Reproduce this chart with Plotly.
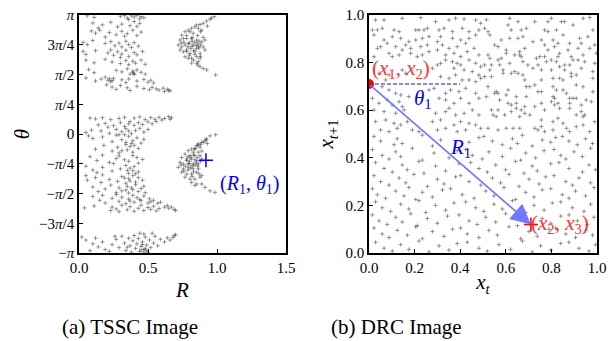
import math
import plotly.graph_objects as go

PI = math.pi

# ---------------- (a) TSSC image : points (R, theta) ----------------
tssc_upper_band = [
    (0.06, 3.12), (0.11, 3.08), (0.30, 3.11), (0.33, 3.13), (0.35, 3.06), (0.38, 3.12), (0.40, 3.09),
    (0.42, 3.13), (0.45, 3.10), (0.47, 3.07), (0.36, 3.02), (0.44, 3.04),
    (0.10, 2.93), (0.17, 2.88), (0.23, 2.95), (0.31, 2.90), (0.37, 2.86), (0.40, 2.97), (0.42, 2.84),
    (0.44, 2.92), (0.28, 2.83), (0.14, 2.80),
    (0.09, 2.72), (0.12, 2.66), (0.15, 2.74), (0.22, 2.68), (0.27, 2.62), (0.31, 2.71), (0.35, 2.65),
    (0.39, 2.74), (0.42, 2.60), (0.45, 2.69), (0.33, 2.58), (0.19, 2.56),
    (0.03, 2.42), (0.06, 2.36), (0.10, 2.47), (0.19, 2.39), (0.23, 2.44), (0.26, 2.33), (0.29, 2.40),
    (0.31, 2.30), (0.34, 2.45), (0.36, 2.36), (0.40, 2.41), (0.43, 2.32), (0.38, 2.28),
    (0.03, 2.18), (0.05, 2.10), (0.12, 2.20), (0.21, 2.14), (0.23, 2.22), (0.25, 2.08), (0.28, 2.17),
    (0.31, 2.11), (0.34, 2.21), (0.36, 2.05), (0.40, 2.15), (0.42, 2.09), (0.46, 2.18), (0.30, 2.02),
    (0.05, 1.95), (0.11, 1.88), (0.19, 1.97), (0.24, 1.90), (0.30, 1.86), (0.34, 1.94), (0.36, 1.83),
    (0.39, 1.92), (0.41, 1.87), (0.45, 1.95), (0.48, 1.84),
    (0.07, 1.70), (0.11, 1.62), (0.27, 1.68), (0.31, 1.64), (0.35, 1.72), (0.39, 1.66), (0.40, 1.60),
    (0.42, 1.69), (0.45, 1.63), (0.48, 1.58), (0.37, 1.58),
    (0.05, 1.48), (0.12, 1.40), (0.16, 1.45), (0.19, 1.50), (0.21, 1.42), (0.23, 1.38), (0.25, 1.47),
    (0.31, 1.43), (0.34, 1.36), (0.36, 1.45), (0.42, 1.40), (0.47, 1.44), (0.50, 1.37), (0.52, 1.42),
    (0.54, 1.35), (0.22, 1.46), (0.24, 1.41), (0.39, 1.62), (0.40, 1.57),
    (0.24, 1.24), (0.27, 1.18), (0.35, 1.22), (0.37, 1.15), (0.42, 1.26), (0.47, 1.20), (0.51, 1.17),
    (0.53, 1.23), (0.56, 1.19), (0.58, 1.16), (0.61, 1.21), (0.64, 1.18), (0.65, 1.15), (0.20, 1.30),
    (0.30, 1.28), (0.62, 1.12), (0.66, 1.14),
]

tssc_upper_cluster = [
    (0.98, 3.10), (0.95, 3.03), (0.925, 2.98), (0.90, 2.92), (0.877, 2.89), (0.853, 2.88), (0.84, 2.83),
    (0.865, 2.79), (0.889, 2.74), (0.816, 2.79), (0.792, 2.74), (0.768, 2.70), (0.804, 2.70),
    (0.828, 2.66), (0.744, 2.61), (0.756, 2.52), (0.732, 2.48), (0.78, 2.52), (0.816, 2.52),
    (0.853, 2.48), (0.889, 2.43), (0.913, 2.48), (0.72, 2.35), (0.744, 2.30), (0.768, 2.35),
    (0.792, 2.39), (0.828, 2.35), (0.865, 2.30), (0.90, 2.30), (0.913, 2.22), (0.732, 2.22),
    (0.756, 2.17), (0.78, 2.22), (0.804, 2.13), (0.84, 2.17), (0.877, 2.13), (0.768, 2.04),
    (0.792, 2.00), (0.816, 2.00), (0.853, 2.04), (0.877, 2.00), (0.816, 1.87), (0.853, 1.87),
    (0.865, 1.91), (0.877, 1.78), (0.90, 1.73), (0.925, 1.69),
    (0.80, 2.40), (0.82, 2.32), (0.84, 2.42), (0.86, 2.38), (0.81, 2.26), (0.83, 2.20), (0.79, 2.30),
    (0.85, 2.25), (0.87, 2.45), (0.88, 2.35), (0.76, 2.42), (0.78, 2.18), (0.74, 2.40), (0.82, 2.55),
    (0.86, 2.60), (0.84, 2.10), (0.80, 2.08), (0.88, 2.05), (0.78, 2.60), (0.90, 2.55), (0.83, 1.95),
    (0.86, 1.82), (0.88, 2.70), (0.93, 2.85), (0.96, 3.06), (0.85, 2.33), (0.87, 2.27), (0.82, 2.45),
]

tssc_lower_band = [
    (0.08, 0.42), (0.12, 0.40), (0.17, 0.43), (0.23, 0.38), (0.29, 0.41), (0.33, 0.44), (0.40, 0.42),
    (0.44, 0.45), (0.52, 0.43), (0.55, 0.39), (0.58, 0.44), (0.62, 0.41), (0.65, 0.46), (0.67, 0.43),
    (0.48, 0.38), (0.60, 0.37), (0.66, 0.39),
    (0.14, 0.24), (0.19, 0.28), (0.25, 0.22), (0.30, 0.30), (0.33, 0.20), (0.36, 0.27), (0.40, 0.23),
    (0.43, 0.30), (0.46, 0.25), (0.50, 0.32), (0.53, 0.27), (0.56, 0.33), (0.37, 0.33), (0.21, 0.18),
    (0.05, 0.04), (0.09, 0.10), (0.16, 0.08), (0.22, 0.02), (0.27, 0.12), (0.31, 0.06), (0.34, 0.14),
    (0.38, 0.01), (0.41, 0.09), (0.44, 0.15), (0.47, 0.05), (0.50, 0.12), (0.29, -0.02), (0.36, 0.08),
    (0.07, -0.05), (0.10, -0.12), (0.17, -0.08), (0.24, -0.20), (0.27, -0.03), (0.31, -0.15),
    (0.34, -0.22), (0.36, -0.06), (0.39, -0.18), (0.42, -0.10), (0.45, -0.24), (0.47, -0.14),
    (0.33, -0.02), (0.38, -0.25),
    (0.18, -0.30), (0.24, -0.45), (0.28, -0.35), (0.29, -0.50), (0.34, -0.28), (0.35, -0.42),
    (0.37, -0.33), (0.39, -0.48), (0.43, -0.38), (0.40, -0.30), (0.12, -0.40), (0.31, -0.44),
    (0.08, -0.60), (0.13, -0.70), (0.17, -0.56), (0.22, -0.75), (0.27, -0.65), (0.29, -0.58),
    (0.36, -0.72), (0.42, -0.62), (0.43, -0.77), (0.46, -0.67), (0.33, -0.68), (0.25, -0.78),
    (0.39, -0.57),
    (0.05, -0.85), (0.10, -0.95), (0.13, -1.02), (0.17, -0.88), (0.24, -0.98), (0.34, -0.83),
    (0.35, -0.96), (0.36, -1.04), (0.37, -0.90), (0.40, -0.86), (0.43, -1.00), (0.30, -0.92),
    (0.39, -0.97), (0.41, -1.05),
    (0.05, -1.10), (0.06, -1.22), (0.12, -1.15), (0.16, -1.28), (0.17, -1.08), (0.22, -1.20),
    (0.28, -1.25), (0.31, -1.12), (0.34, -1.30), (0.36, -1.18), (0.39, -1.10), (0.41, -1.27),
    (0.43, -1.15), (0.46, -1.22), (0.37, -1.24), (0.33, -1.16),
    (0.10, -1.40), (0.14, -1.52), (0.19, -1.45), (0.23, -1.35), (0.27, -1.55), (0.29, -1.42),
    (0.31, -1.50), (0.35, -1.38), (0.36, -1.56), (0.39, -1.47), (0.41, -1.34), (0.43, -1.52),
    (0.45, -1.44), (0.47, -1.38), (0.48, -1.55), (0.38, -1.42), (0.34, -1.48),
    (0.10, -1.65), (0.15, -1.75), (0.17, -1.62), (0.19, -1.82), (0.24, -1.70), (0.27, -1.60),
    (0.29, -1.78), (0.31, -1.67), (0.34, -1.84), (0.36, -1.72), (0.39, -1.62), (0.40, -1.80),
    (0.42, -1.68), (0.45, -1.76), (0.47, -1.64), (0.50, -1.82), (0.51, -1.71), (0.52, -1.79),
    (0.54, -1.75), (0.57, -1.83), (0.59, -1.80), (0.44, -1.73), (0.37, -1.77),
    (0.04, -1.95), (0.11, -1.90), (0.23, -2.02), (0.24, -1.93), (0.27, -1.98), (0.29, -2.05),
    (0.31, -1.88), (0.35, -2.00), (0.37, -1.92), (0.40, -2.04), (0.43, -1.96), (0.45, -1.88),
    (0.47, -2.02), (0.50, -1.94), (0.52, -1.99), (0.54, -1.91), (0.58, -1.97), (0.62, -1.93),
    (0.64, -1.89), (0.65, -1.96), (0.69, -1.99), (0.70, -2.02), (0.67, -1.93), (0.56, -2.03),
]

tssc_lower_cluster = [
    (0.95, -0.05), (0.92, -0.15), (0.90, -0.22), (0.88, -0.28), (0.86, -0.30), (0.93, -0.25),
    (0.84, -0.38), (0.925, -0.13), (0.913, -0.18), (0.889, -0.22), (0.865, -0.26), (0.853, -0.31),
    (0.877, -0.35), (0.84, -0.40), (0.816, -0.40), (0.792, -0.44), (0.828, -0.48), (0.865, -0.48),
    (0.768, -0.53), (0.804, -0.57), (0.84, -0.57), (0.877, -0.57), (0.744, -0.62), (0.78, -0.66),
    (0.816, -0.66), (0.853, -0.70), (0.889, -0.66), (0.732, -0.75), (0.756, -0.79), (0.792, -0.79),
    (0.828, -0.79), (0.865, -0.79), (0.72, -0.88), (0.756, -0.92), (0.792, -0.88), (0.828, -0.92),
    (0.865, -0.92), (0.744, -1.01), (0.78, -1.06), (0.816, -1.06), (0.853, -1.01), (0.889, -1.10),
    (0.768, -1.14), (0.804, -1.19), (0.84, -1.19), (0.877, -1.14), (0.816, -1.28), (0.853, -1.32),
    (0.889, -1.32), (0.84, -1.36), (0.913, -1.41), (0.95, -1.50), (0.985, -1.54),
    (0.80, -0.72), (0.82, -0.84), (0.78, -0.70), (0.84, -0.68), (0.79, -0.95), (0.81, -0.62),
    (0.86, -0.85), (0.83, -1.00), (0.77, -0.85), (0.85, -0.76), (0.80, -0.78), (0.76, -0.98),
    (0.82, -1.12), (0.87, -1.05), (0.88, -0.72), (0.74, -0.82), (0.86, -0.62), (0.83, -0.55),
    (0.89, -0.45), (0.81, -0.90), (0.84, -0.82), (0.79, -0.60),
]

tssc_bottom_band = [
    (0.02, -2.72), (0.05, -2.80), (0.10, -2.90), (0.12, -2.75), (0.14, -2.98), (0.17, -2.85),
    (0.19, -3.05), (0.24, -2.92), (0.27, -2.78), (0.29, -3.00), (0.31, -2.70), (0.33, -2.88),
    (0.34, -3.08), (0.36, -2.75), (0.37, -2.95), (0.38, -3.12), (0.39, -2.82), (0.40, -2.68),
    (0.41, -3.02), (0.42, -2.90), (0.43, -2.76), (0.44, -3.10), (0.45, -2.97), (0.46, -2.85),
    (0.47, -3.05), (0.48, -2.72), (0.49, -2.93), (0.50, -3.12), (0.51, -2.80), (0.52, -3.00),
    (0.54, -2.88), (0.55, -2.70), (0.57, -2.95), (0.59, -2.78), (0.62, -2.85), (0.64, -2.74),
    (0.66, -2.80), (0.69, -2.68), (0.70, -2.66), (0.68, -2.73), (0.22, -3.10), (0.26, -2.70),
    (0.08, -3.08), (0.35, -2.99), (0.44, -2.62), (0.53, -2.62), (0.47, -2.64),
    (0.45, -3.06), (0.47, -3.12), (0.48, -3.02), (0.46, -2.92), (0.49, -3.08),
]

tssc_isolated = [(0.99, 1.56), (0.99, -0.02)]

r_ticks = [0.0, 0.5, 1.0, 1.5]
r_tick_text = ["0.0", "0.5", "1.0", "1.5"]
theta_ticks = [PI, 3 * PI / 4, PI / 2, PI / 4, 0, -PI / 4, -PI / 2, -3 * PI / 4, -PI]
theta_tick_text = ["<i>π</i>", "3<i>π</i>/4", "<i>π</i>/2", "<i>π</i>/4", "0",
                   "−<i>π</i>/4", "−<i>π</i>/2", "−3<i>π</i>/4", "−<i>π</i>"]

highlight_R = [0.92]
highlight_theta = [-0.69]

# ---------------- (b) DRC image : points (x_t, x_{t+1}) ----------------
drc_top_left = [
    (0.029, 0.979), (0.066, 0.979), (0.146, 0.986), (0.227, 0.989), (0.292, 0.972), (0.351, 0.979),
    (0.38, 0.986), (0.417, 0.983), (0.468, 0.979), (0.49, 0.965), (0.015, 0.937), (0.037, 0.937),
    (0.058, 0.944), (0.11, 0.937), (0.132, 0.93), (0.205, 0.937), (0.219, 0.937), (0.241, 0.937),
    (0.256, 0.944), (0.307, 0.937), (0.329, 0.944), (0.366, 0.93), (0.409, 0.944), (0.439, 0.93),
    (0.482, 0.937), (0.022, 0.916), (0.066, 0.895), (0.102, 0.909), (0.139, 0.902), (0.175, 0.888),
    (0.205, 0.895), (0.234, 0.902), (0.263, 0.909), (0.30, 0.888), (0.314, 0.909), (0.366, 0.902),
    (0.402, 0.895), (0.439, 0.902), (0.468, 0.916), (0.037, 0.86), (0.051, 0.867), (0.08, 0.881),
    (0.117, 0.867), (0.146, 0.853), (0.161, 0.874), (0.183, 0.86), (0.227, 0.867), (0.256, 0.874),
    (0.30, 0.853), (0.322, 0.874), (0.351, 0.86), (0.387, 0.867), (0.424, 0.881), (0.461, 0.86),
    (0.022, 0.825), (0.088, 0.839), (0.102, 0.825), (0.132, 0.832), (0.183, 0.839), (0.212, 0.825),
    (0.234, 0.832), (0.263, 0.846), (0.336, 0.832), (0.373, 0.839), (0.402, 0.825), (0.431, 0.846),
    (0.482, 0.832), (0.336, 0.811), (0.366, 0.804), (0.387, 0.797), (0.402, 0.79), (0.439, 0.811),
    (0.468, 0.797), (0.49, 0.783), (0.278, 0.776), (0.30, 0.79), (0.314, 0.797), (0.373, 0.776),
    (0.417, 0.769), (0.453, 0.762), (0.482, 0.748), (0.044, 0.755), (0.088, 0.748), (0.146, 0.769),
    (0.161, 0.755), (0.073, 0.727), (0.314, 0.741), (0.351, 0.734), (0.38, 0.748), (0.409, 0.727),
    (0.439, 0.727), (0.468, 0.72), (0.49, 0.734), (0.058, 0.699), (0.088, 0.685), (0.117, 0.671),
    (0.139, 0.664), (0.175, 0.657), (0.263, 0.685), (0.285, 0.692), (0.336, 0.671), (0.358, 0.685),
    (0.395, 0.678), (0.424, 0.692), (0.468, 0.671), (0.015, 0.65), (0.044, 0.629), (0.08, 0.643),
    (0.102, 0.622), (0.132, 0.636), (0.146, 0.615), (0.307, 0.65), (0.336, 0.643), (0.373, 0.629),
    (0.402, 0.65), (0.439, 0.629), (0.482, 0.65), (0.022, 0.601), (0.066, 0.594), (0.117, 0.587),
    (0.154, 0.601), (0.292, 0.587), (0.336, 0.594), (0.351, 0.608), (0.38, 0.58), (0.417, 0.587),
    (0.453, 0.601), (0.482, 0.58), (0.029, 0.552), (0.073, 0.559), (0.11, 0.545), (0.139, 0.538),
    (0.168, 0.552), (0.278, 0.552), (0.314, 0.559), (0.373, 0.538), (0.402, 0.552), (0.439, 0.545),
    (0.468, 0.538), (0.051, 0.517), (0.088, 0.51), (0.124, 0.524), (0.19, 0.517), (0.219, 0.51),
    (0.30, 0.517), (0.336, 0.524), (0.387, 0.51), (0.424, 0.517), (0.49, 0.524),
]

drc_top_right = [
    (0.515, 0.98), (0.617, 0.986), (0.654, 0.972), (0.727, 0.972), (0.785, 0.972), (0.80, 0.986),
    (0.844, 0.972), (0.858, 0.972), (0.939, 0.986), (0.968, 0.99), (0.507, 0.944), (0.522, 0.93),
    (0.53, 0.916), (0.61, 0.958), (0.624, 0.937), (0.668, 0.937), (0.69, 0.944), (0.77, 0.937),
    (0.785, 0.93), (0.822, 0.937), (0.895, 0.958), (0.982, 0.937), (0.551, 0.874), (0.58, 0.895),
    (0.617, 0.902), (0.654, 0.902), (0.675, 0.909), (0.719, 0.888), (0.756, 0.895), (0.807, 0.895),
    (0.829, 0.881), (0.851, 0.916), (0.88, 0.881), (0.924, 0.902), (0.931, 0.881), (0.96, 0.909),
    (0.566, 0.867), (0.602, 0.853), (0.661, 0.846), (0.683, 0.86), (0.77, 0.874), (0.785, 0.853),
    (0.814, 0.867), (0.836, 0.839), (0.873, 0.853), (0.917, 0.86), (0.968, 0.86), (0.99, 0.874),
    (0.522, 0.832), (0.53, 0.818), (0.58, 0.818), (0.602, 0.839), (0.639, 0.832), (0.661, 0.832),
    (0.668, 0.825), (0.734, 0.818), (0.749, 0.825), (0.77, 0.825), (0.80, 0.811), (0.829, 0.825),
    (0.887, 0.825), (0.895, 0.811), (0.939, 0.832), (0.997, 0.839), (0.507, 0.79), (0.537, 0.79),
    (0.566, 0.811), (0.573, 0.79), (0.617, 0.797), (0.675, 0.804), (0.697, 0.79), (0.741, 0.79),
    (0.778, 0.804), (0.822, 0.804), (0.858, 0.79), (0.88, 0.79), (0.917, 0.811), (0.946, 0.804),
    (0.99, 0.797), (0.53, 0.769), (0.588, 0.769), (0.624, 0.755), (0.639, 0.762), (0.654, 0.755),
    (0.675, 0.748), (0.719, 0.776), (0.756, 0.769), (0.80, 0.769), (0.836, 0.783), (0.858, 0.769),
    (0.887, 0.755), (0.931, 0.776), (0.982, 0.762), (0.507, 0.741), (0.537, 0.741), (0.588, 0.755),
    (0.683, 0.727), (0.756, 0.727), (0.807, 0.734), (0.836, 0.734), (0.851, 0.727), (0.887, 0.741),
    (0.909, 0.748), (0.982, 0.734), (0.522, 0.699), (0.558, 0.678), (0.602, 0.664), (0.61, 0.685),
    (0.69, 0.699), (0.705, 0.699), (0.727, 0.706), (0.741, 0.678), (0.756, 0.678), (0.807, 0.699),
    (0.822, 0.685), (0.851, 0.685), (0.866, 0.671), (0.909, 0.706), (0.939, 0.699), (0.982, 0.678),
    (0.515, 0.657), (0.551, 0.671), (0.566, 0.671), (0.646, 0.657), (0.69, 0.657), (0.807, 0.657),
    (0.814, 0.65), (0.88, 0.65), (0.895, 0.65), (0.909, 0.65), (0.953, 0.643), (0.573, 0.643),
    (0.61, 0.629), (0.624, 0.622), (0.646, 0.629), (0.683, 0.615), (0.727, 0.615), (0.756, 0.629),
    (0.80, 0.636), (0.814, 0.622), (0.829, 0.629), (0.88, 0.629), (0.931, 0.622), (0.975, 0.636),
    (0.537, 0.601), (0.566, 0.601), (0.624, 0.594), (0.646, 0.608), (0.668, 0.601), (0.683, 0.587),
    (0.77, 0.601), (0.836, 0.608), (0.88, 0.608), (0.931, 0.594), (0.946, 0.58), (0.544, 0.58),
    (0.558, 0.573), (0.595, 0.58), (0.661, 0.573), (0.705, 0.58), (0.756, 0.559), (0.807, 0.552),
    (0.829, 0.566), (0.851, 0.545), (0.909, 0.58), (0.939, 0.573), (0.99, 0.552), (0.522, 0.524),
    (0.566, 0.517), (0.602, 0.524), (0.632, 0.524), (0.661, 0.524), (0.727, 0.524), (0.741, 0.517),
    (0.756, 0.531), (0.77, 0.51), (0.807, 0.517), (0.866, 0.524), (0.88, 0.51), (0.909, 0.531),
    (0.939, 0.538), (0.968, 0.51),
]

drc_bottom = [
    (0.022, 0.49), (0.051, 0.47), (0.11, 0.455), (0.124, 0.48), (0.146, 0.46), (0.234, 0.495),
    (0.278, 0.45), (0.314, 0.475), (0.439, 0.465), (0.482, 0.485), (0.504, 0.49), (0.541, 0.47),
    (0.585, 0.455), (0.629, 0.48), (0.651, 0.46), (0.673, 0.495), (0.716, 0.45), (0.76, 0.475),
    (0.797, 0.465), (0.819, 0.485), (0.848, 0.49), (0.877, 0.47), (0.914, 0.455), (0.95, 0.48),
    (0.98, 0.46),
    (0.015, 0.435), (0.058, 0.41), (0.088, 0.395), (0.117, 0.425), (0.139, 0.405), (0.19, 0.44),
    (0.234, 0.39), (0.285, 0.42), (0.351, 0.40), (0.387, 0.43), (0.424, 0.435), (0.453, 0.41),
    (0.497, 0.395), (0.526, 0.425), (0.585, 0.405), (0.621, 0.44), (0.665, 0.39), (0.687, 0.42),
    (0.731, 0.40), (0.768, 0.43), (0.811, 0.435), (0.841, 0.41), (0.863, 0.395), (0.899, 0.425),
    (0.936, 0.405), (0.972, 0.44),
    (0.029, 0.38), (0.066, 0.355), (0.102, 0.34), (0.146, 0.37), (0.168, 0.35), (0.219, 0.385),
    (0.241, 0.335), (0.292, 0.365), (0.336, 0.345), (0.395, 0.375), (0.446, 0.38), (0.482, 0.355),
    (0.519, 0.34), (0.556, 0.37), (0.599, 0.35), (0.643, 0.385), (0.68, 0.335), (0.716, 0.365),
    (0.738, 0.345), (0.797, 0.375), (0.833, 0.38), (0.877, 0.355), (0.936, 0.34), (0.965, 0.37),
    (0.994, 0.35),
    (0.022, 0.325), (0.051, 0.30), (0.088, 0.285), (0.132, 0.315), (0.161, 0.295), (0.197, 0.33),
    (0.256, 0.28), (0.30, 0.31), (0.329, 0.29), (0.38, 0.32), (0.402, 0.325), (0.439, 0.30),
    (0.49, 0.285), (0.541, 0.315), (0.577, 0.295), (0.614, 0.33), (0.658, 0.28), (0.702, 0.31),
    (0.746, 0.29), (0.775, 0.32), (0.811, 0.325), (0.863, 0.30), (0.892, 0.285), (0.921, 0.315),
    (0.972, 0.295),
    (0.015, 0.27), (0.037, 0.245), (0.073, 0.23), (0.117, 0.26), (0.154, 0.24), (0.175, 0.275),
    (0.205, 0.225), (0.234, 0.255), (0.278, 0.235), (0.322, 0.265), (0.358, 0.27), (0.409, 0.245),
    (0.461, 0.23), (0.512, 0.26), (0.548, 0.24), (0.592, 0.275), (0.643, 0.225), (0.687, 0.255),
    (0.724, 0.235), (0.76, 0.265), (0.797, 0.27), (0.848, 0.245), (0.877, 0.23), (0.906, 0.26),
    (0.95, 0.24), (0.987, 0.275),
    (0.029, 0.215), (0.058, 0.19), (0.095, 0.175), (0.139, 0.205), (0.175, 0.185), (0.219, 0.22),
    (0.249, 0.17), (0.292, 0.20), (0.336, 0.18), (0.373, 0.21), (0.424, 0.215), (0.468, 0.19),
    (0.504, 0.175), (0.548, 0.205), (0.585, 0.185), (0.629, 0.22), (0.687, 0.17), (0.724, 0.20),
    (0.768, 0.18), (0.804, 0.21), (0.841, 0.215), (0.892, 0.19), (0.943, 0.175), (0.972, 0.205),
    (0.015, 0.16), (0.044, 0.135), (0.08, 0.12), (0.117, 0.15), (0.146, 0.13), (0.183, 0.165),
    (0.212, 0.115), (0.256, 0.145), (0.30, 0.125), (0.344, 0.155), (0.395, 0.16), (0.439, 0.135),
    (0.475, 0.12), (0.512, 0.15), (0.556, 0.13), (0.599, 0.165), (0.651, 0.115), (0.76, 0.145),
    (0.797, 0.125), (0.841, 0.155), (0.877, 0.16), (0.914, 0.135), (0.958, 0.12), (0.987, 0.15),
    (0.022, 0.105), (0.058, 0.08), (0.088, 0.065), (0.124, 0.095), (0.168, 0.075), (0.205, 0.11),
    (0.234, 0.06), (0.278, 0.09), (0.329, 0.07), (0.366, 0.10), (0.402, 0.105), (0.431, 0.08),
    (0.482, 0.065), (0.526, 0.095), (0.563, 0.075), (0.614, 0.11), (0.665, 0.06), (0.702, 0.09),
    (0.738, 0.07), (0.789, 0.10), (0.819, 0.105), (0.863, 0.08), (0.906, 0.065), (0.95, 0.095),
    (0.98, 0.075),
    (0.029, 0.045), (0.066, 0.02), (0.102, 0.008), (0.139, 0.035), (0.175, 0.015), (0.219, 0.05),
    (0.263, 0.004), (0.307, 0.03), (0.351, 0.012), (0.387, 0.04), (0.431, 0.045), (0.482, 0.02),
    (0.519, 0.008), (0.57, 0.035), (0.621, 0.015), (0.673, 0.05), (0.716, 0.004), (0.753, 0.03),
    (0.797, 0.012), (0.841, 0.04), (0.877, 0.045), (0.921, 0.02), (0.965, 0.008), (0.994, 0.035),
]

unit_ticks = [0.0, 0.2, 0.4, 0.6, 0.8, 1.0]
unit_tick_text = ["0.0", "0.2", "0.4", "0.6", "0.8", "1.0"]

pair1 = (0.0, 0.71)     # (x1, x2)
pair2 = (0.71, 0.12)    # (x2, x3)
theta_ref_end = 0.4     # end of dashed reference line

# ---------------- figure ----------------
W, H = 616, 341


def fx(px):
    return px / W


def fy(py):
    return (H - py) / H


SERIF = "Liberation Serif"
DOT = dict(symbol="cross-thin", size=3, line=dict(width=0.7, color="rgba(55,55,55,0.7)"))

fig = go.Figure()

for pts in [tssc_upper_band, tssc_upper_cluster, tssc_lower_band, tssc_lower_cluster,
            tssc_bottom_band, tssc_isolated]:
    fig.add_trace(go.Scatter(x=[p[0] for p in pts], y=[p[1] for p in pts], mode="markers",
                             marker=DOT, xaxis="x", yaxis="y", showlegend=False, hoverinfo="skip"))

fig.add_trace(go.Scatter(x=highlight_R, y=highlight_theta, mode="markers",
                         marker=dict(symbol="cross-thin", size=10, line=dict(width=1.5, color="blue")),
                         xaxis="x", yaxis="y", showlegend=False))

for pts in [drc_top_left, drc_top_right, drc_bottom]:
    fig.add_trace(go.Scatter(x=[p[0] for p in pts], y=[p[1] for p in pts], mode="markers",
                             marker=DOT, xaxis="x2", yaxis="y2", showlegend=False, hoverinfo="skip"))

fig.add_trace(go.Scatter(x=[pair1[0], theta_ref_end], y=[pair1[1], pair1[1]], mode="lines",
                         line=dict(color="#1010e0", width=1.2, dash="4px,2px"),
                         xaxis="x2", yaxis="y2", showlegend=False))
fig.add_trace(go.Scatter(x=[pair1[0]], y=[pair1[1]], mode="markers",
                         marker=dict(symbol="circle", size=10, color="red"),
                         xaxis="x2", yaxis="y2", showlegend=False))
fig.add_trace(go.Scatter(x=[pair2[0]], y=[pair2[1]], mode="markers",
                         marker=dict(symbol="cross-thin", size=10, line=dict(width=1.5, color="red")),
                         xaxis="x2", yaxis="y2", showlegend=False))

axis_style = dict(showline=True, linecolor="black", linewidth=1.5, mirror=True, ticks="inside",
                  ticklen=4, tickwidth=1, tickcolor="black", showgrid=False, zeroline=False,
                  automargin=False,
                  tickfont=dict(family=SERIF, size=15, color="black"))

fig.update_layout(
    width=W, height=H,
    margin=dict(l=0, r=0, t=0, b=0, autoexpand=False),
    paper_bgcolor="white", plot_bgcolor="white",
    xaxis=dict(domain=[fx(79), fx(286)], range=[0, 1.5], anchor="y",
               tickvals=r_ticks, ticktext=r_tick_text,
               title=dict(text="<i>R</i>", font=dict(family=SERIF, size=21, color="black"), standoff=8),
               **axis_style),
    yaxis=dict(domain=[fy(253), fy(15)], range=[-PI, PI], anchor="x",
               tickvals=theta_ticks, ticktext=theta_tick_text,
               title=dict(text="<i>θ</i>", font=dict(family=SERIF, size=21, color="black"), standoff=4),
               **axis_style),
    xaxis2=dict(domain=[fx(369), fx(597)], range=[0, 1], anchor="y2",
                tickvals=unit_ticks, ticktext=unit_tick_text,
                title=dict(text="<i>x</i><sub><i>t</i></sub>", font=dict(family=SERIF, size=21, color="black"),
                           standoff=0),
                **axis_style),
    yaxis2=dict(domain=[fy(253), fy(15)], range=[0, 1], anchor="x2",
                tickvals=unit_ticks, ticktext=unit_tick_text,
                title=dict(text="<i>x</i><sub><i>t</i>+1</sub>", font=dict(family=SERIF, size=21, color="black"),
                           standoff=6),
                **axis_style),
)

annotations = [
    dict(x=pair2[0], y=pair2[1], ax=pair1[0], ay=pair1[1], xref="x2", yref="y2", axref="x2", ayref="y2",
         text="", showarrow=True, arrowhead=2, arrowsize=2.5, arrowwidth=1.6, arrowcolor="#7078ff", standoff=0),
    dict(x=0.005, y=0.775, xref="x2", yref="y2", xanchor="left", yanchor="middle", showarrow=False,
         text="(<i>x</i><sub>1</sub>, <i>x</i><sub>2</sub>)", font=dict(family=SERIF, size=21, color="#ff3030")),
    dict(x=0.235, y=0.645, xref="x2", yref="y2", xanchor="center", yanchor="middle", showarrow=False,
         text="<i>θ</i><sub>1</sub>", font=dict(family=SERIF, size=21, color="blue")),
    dict(x=0.40, y=0.44, xref="x2", yref="y2", xanchor="center", yanchor="middle", showarrow=False,
         text="<i>R</i><sub>1</sub>", font=dict(family=SERIF, size=21, color="blue")),
    dict(x=0.70, y=0.12, xref="x2", yref="y2", xanchor="left", yanchor="middle", showarrow=False,
         text="(<i>x</i><sub>2</sub>, <i>x</i><sub>3</sub>)", font=dict(family=SERIF, size=21, color="#ff3030")),
    dict(x=1.005, y=-1.32, xref="x", yref="y", xanchor="left", yanchor="middle", showarrow=False,
         text="(<i>R</i><sub>1</sub>, <i>θ</i><sub>1</sub>)", font=dict(family=SERIF, size=20, color="blue")),
    dict(x=fx(130), y=fy(327), xref="paper", yref="paper", xanchor="center", yanchor="middle",
         showarrow=False, text="(a) TSSC Image", font=dict(family=SERIF, size=21, color="black")),
    dict(x=fx(396), y=fy(327), xref="paper", yref="paper", xanchor="center", yanchor="middle",
         showarrow=False, text="(b) DRC Image", font=dict(family=SERIF, size=21, color="black")),
]
fig.update_layout(annotations=annotations)

# remove the browser's default page margin so the figure sits at the window origin
fig.write_html("out.html",
               config={"displayModeBar": False},
               post_script="document.body.style.margin='0';"
                           "document.documentElement.style.overflow='hidden';")
